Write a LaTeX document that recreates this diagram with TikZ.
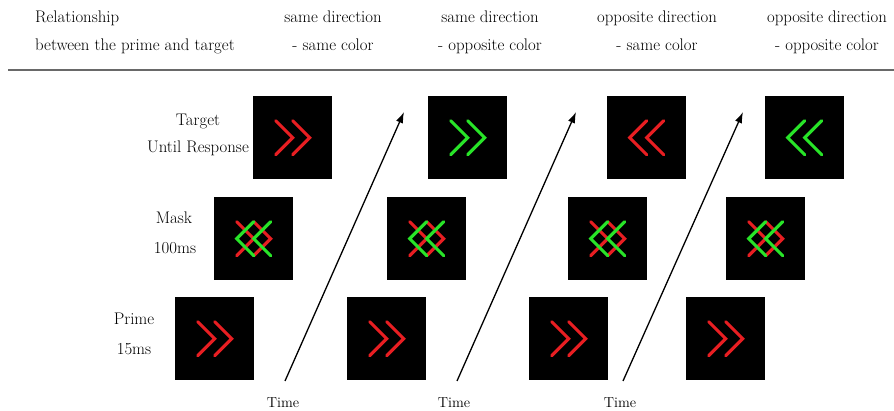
\documentclass[tikz,border=0pt]{standalone}
\usepackage{fontspec}
\usetikzlibrary{arrows.meta}
\definecolor{stimred}{RGB}{232,30,34}
\definecolor{stimgreen}{RGB}{40,228,40}
\definecolor{rulegray}{RGB}{105,105,105}
\begin{document}
\begin{tikzpicture}[x=1pt,y=-1pt,
  lab/.style={font=\fontsize{16.8}{19}\selectfont, inner sep=0pt},
  timelab/.style={font=\fontsize{14.5}{16}\selectfont, inner sep=0pt, anchor=base},
  stim/.style={fill=black, minimum width=79pt, minimum height=83pt, inner sep=0pt, anchor=north west},
  chev/.style={line width=3.1pt, line cap=round, line join=miter},
  timearrow/.style={line width=1.3pt, -{Latex[length=11pt,width=7.5pt]}},
  pics/rightchev/.style={code={\draw[pic actions] (-17,-17) -- (0,0) -- (-17,17) (0,-17) -- (17,0) -- (0,17);}},
  pics/leftchev/.style={code={\draw[pic actions] (17,-17) -- (0,0) -- (17,17) (0,-17) -- (-17,0) -- (0,17);}},
]
\useasboundingbox (0,0) rectangle (894,411);

% header
\node[lab, anchor=base west] (hl1) at (35,23) {Relationship};
\node[lab, anchor=base west] (hl2) at (35,51) {between the prime and target};
\node[lab, anchor=base] (h1a) at (333,23) {same direction};
\node[lab, anchor=base] (h1b) at (333,51) {- same color};
\node[lab, anchor=base] (h2a) at (490,23) {same direction};
\node[lab, anchor=base] (h2b) at (490,51) {- opposite color};
\node[lab, anchor=base] (h3a) at (657,23) {opposite direction};
\node[lab, anchor=base] (h3b) at (657,51) {- same color};
\node[lab, anchor=base] (h4a) at (827,23) {opposite direction};
\node[lab, anchor=base] (h4b) at (827,51) {- opposite color};
\draw[rulegray, line width=2pt] (8,70) -- (894,70);

% row labels
\node[lab, anchor=base] (ltg1) at (198,126) {Target};
\node[lab, anchor=base] (ltg2) at (198,153) {Until Response};
\node[lab, anchor=base] (lmk1) at (174,224) {Mask};
\node[lab, anchor=base] (lmk2) at (175,254) {100ms};
\node[lab, anchor=base] (lpr1) at (134,325) {Prime};
\node[lab, anchor=base] (lpr2) at (134,355) {15ms};

% stimulus frames
\node[stim] (tg1) at (253,96) {};
\node[stim] (tg2) at (428,96) {};
\node[stim] (tg3) at (607,96) {};
\node[stim] (tg4) at (765,96) {};
\node[stim] (mk1) at (214,197) {};
\node[stim] (mk2) at (387,197) {};
\node[stim] (mk3) at (568,197) {};
\node[stim] (mk4) at (726,197) {};
\node[stim] (pr1) at (175,297) {};
\node[stim] (pr2) at (347,297) {};
\node[stim] (pr3) at (529,297) {};
\node[stim] (pr4) at (686,297) {};

% targets
\pic[chev, draw=stimred] at (tg1.center) {rightchev};
\pic[chev, draw=stimgreen] at (tg2.center) {rightchev};
\pic[chev, draw=stimred] at (tg3.center) {leftchev};
\pic[chev, draw=stimgreen] at (tg4.center) {leftchev};

% masks: red >> overlaid with green <<
\foreach \m in {mk1,mk2,mk3,mk4}{
  \pic[chev, draw=stimred] at (\m.center) {rightchev};
  \pic[chev, draw=stimgreen] at (\m.center) {leftchev};
}

% primes
\foreach \p in {pr1,pr2,pr3,pr4}{
  \pic[chev, draw=stimred] at (\p.center) {rightchev};
}

% time axes
\coordinate (ta1) at (285,381);
\coordinate (tb1) at (404,112);
\coordinate (ta2) at (457,381);
\coordinate (tb2) at (576,112);
\coordinate (ta3) at (623,381);
\coordinate (tb3) at (743,112);
\draw[timearrow] (ta1) -- (tb1);
\draw[timearrow] (ta2) -- (tb2);
\draw[timearrow] (ta3) -- (tb3);
\node[timelab] (tm1) at (283,407) {Time};
\node[timelab] (tm2) at (454,407) {Time};
\node[timelab] (tm3) at (620,407) {Time};
\end{tikzpicture}
\end{document}
